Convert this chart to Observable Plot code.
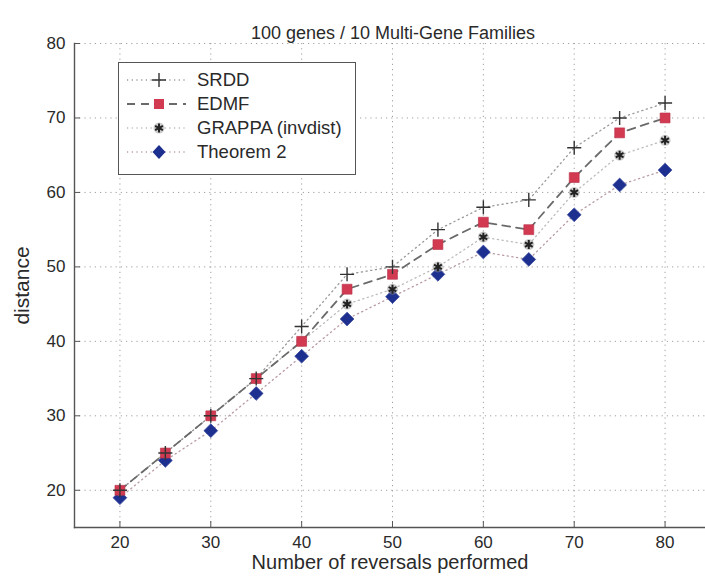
<!DOCTYPE html>
<html>
<head>
<meta charset="utf-8">
<script src="https://cdn.jsdelivr.net/npm/d3@7"></script>
<script src="https://cdn.jsdelivr.net/npm/@observablehq/plot@0.6"></script>
<style>
  html, body { margin: 0; padding: 0; background: #fff; }
  #wrap { position: relative; width: 705px; height: 578px; font-family: "Liberation Sans", Arial, sans-serif; }
  #legend { position: absolute; left: 118px; top: 62px; width: 238px; height: 113px; border: 1.4px solid #555; background: #fff; box-sizing: border-box; }
  #legend .row { position: absolute; left: 0; height: 24px; display: flex; align-items: center; }
  #legend .row span { font-size: 18.5px; color: #2a2a2a; margin-left: 10px; }
</style>
</head>
<body>
<div id="wrap"></div>
<script>
const reversals = [20, 25, 30, 35, 40, 45, 50, 55, 60, 65, 70, 75, 80];
const srdd    = [20, 25, 30, 35, 42, 49, 50, 55, 58, 59, 66, 70, 72];
const edmf    = [20, 25, 30, 35, 40, 47, 49, 53, 56, 55, 62, 68, 70];
const grappa  = [20, 25, 30, 35, 40, 45, 47, 50, 54, 53, 60, 65, 67];
const theorem = [19, 24, 28, 33, 38, 43, 46, 49, 52, 51, 57, 61, 63];
const seriesNames = ["SRDD", "EDMF", "GRAPPA (invdist)", "Theorem 2"];
const xTicks = [20, 30, 40, 50, 60, 70, 80];
const yTicks = [20, 30, 40, 50, 60, 70, 80];
const titleText = "100 genes / 10 Multi-Gene Families";
const xLabel = "Number of reversals performed";
const yLabel = "distance";

const mk = (vals) => reversals.map((x, i) => ({x, y: vals[i]}));
const dS = mk(srdd), dE = mk(edmf), dG = mk(grappa), dT = mk(theorem);

const ink = "#2a2a2a";
const chart = Plot.plot({
  width: 705, height: 578,
  marginLeft: 74, marginRight: 0, marginTop: 43, marginBottom: 51,
  style: {fontFamily: "Liberation Sans, Arial, sans-serif", background: "transparent", color: ink},
  x: {domain: [15, 84.45]},
  y: {domain: [15, 80]},
  marks: [
    Plot.gridX(xTicks, {stroke: "#777", strokeOpacity: 0.7, strokeDasharray: "1.2,4"}),
    Plot.gridY(yTicks, {stroke: "#777", strokeOpacity: 0.7, strokeDasharray: "1.2,4"}),
    Plot.frame({anchor: "left", stroke: "#555", strokeWidth: 1.4}),
    Plot.frame({anchor: "bottom", stroke: "#555", strokeWidth: 1.4}),
    Plot.axisX(xTicks, {tickSize: -6, tickFormat: () => "", label: null, stroke: "#555"}),
    Plot.axisY(yTicks, {tickSize: -6, tickFormat: () => "", label: null, stroke: "#555"}),
    Plot.axisX(xTicks, {tickSize: 0, tickPadding: 8, fontSize: 17, label: null, fill: ink}),
    Plot.axisY(yTicks, {tickSize: 0, tickPadding: 9, fontSize: 17, label: null, fill: ink}),
    Plot.line(dT, {x: "x", y: "y", stroke: "#b89aa2", strokeWidth: 1.3, strokeDasharray: "1.2,3.5"}),
    Plot.line(dG, {x: "x", y: "y", stroke: "#bbb", strokeWidth: 1.3, strokeDasharray: "1.2,3.5"}),
    Plot.line(dS, {x: "x", y: "y", stroke: "#999", strokeWidth: 1.3, strokeDasharray: "1.2,3.5"}),
    Plot.line(dE, {x: "x", y: "y", stroke: "#6a6a6a", strokeWidth: 1.8, strokeDasharray: "8,6"}),
    Plot.dot(dT, {x: "x", y: "y", symbol: "diamond2", r: 6.2, fill: "#1d2f8f", stroke: "#3a4aa0", strokeWidth: 0.8}),
    Plot.dot(dG, {x: "x", y: "y", r: 5.5, fill: "#9a9a9a", fillOpacity: 0.5, stroke: "none"}),
    Plot.dot(dG, {x: "x", y: "y", symbol: "asterisk", r: 4.2, stroke: "#222", strokeWidth: 2}),
    Plot.dot(dE, {x: "x", y: "y", symbol: "square", r: 5.6, fill: "#d23a52", stroke: "#b83048", strokeWidth: 0.6}),
    Plot.dot(dS, {x: "x", y: "y", symbol: "plus", r: 4.6, stroke: "#333", strokeWidth: 1.4}),
    Plot.text([titleText], {frameAnchor: "top", dy: -17, dx: 3, fontSize: 18, fill: ink}),
    Plot.text([xLabel], {frameAnchor: "bottom", dy: 41, fontSize: 20, fill: ink}),
    Plot.text([yLabel], {frameAnchor: "left", textAnchor: "middle", dx: -52, rotate: -90, fontSize: 21, fill: ink})
  ]
});
const wrap = document.getElementById("wrap");
wrap.appendChild(chart);

// legend
const leg = document.createElement("div");
leg.id = "legend";
const styles = [
  {line: {stroke: "#999", dash: "1.2,3.5", w: 1.3}, sym: "plus"},
  {line: {stroke: "#6a6a6a", dash: "8,6", w: 1.8}, sym: "square"},
  {line: {stroke: "#bbb", dash: "1.2,3.5", w: 1.3}, sym: "asterisk"},
  {line: {stroke: "#b89aa2", dash: "1.2,3.5", w: 1.3}, sym: "diamond"}
];
const rowsY = [5, 29, 53, 77];
seriesNames.forEach((name, i) => {
  const s = styles[i];
  const row = document.createElement("div");
  row.className = "row";
  row.style.top = rowsY[i] + "px";
  const svg = d3.create("svg").attr("width", 68).attr("height", 24);
  svg.append("line").attr("x1", 8).attr("x2", 67).attr("y1", 12).attr("y2", 12)
    .attr("stroke", s.line.stroke).attr("stroke-width", s.line.w).attr("stroke-dasharray", s.line.dash);
  const g = svg.append("g").attr("transform", "translate(40,12)");
  if (s.sym === "plus") {
    g.append("path").attr("d", d3.symbol(d3.symbolPlus, 66)()).attr("fill", "none").attr("stroke", "#333").attr("stroke-width", 1.4);
  } else if (s.sym === "square") {
    g.append("rect").attr("x", -5).attr("y", -5).attr("width", 10).attr("height", 10).attr("fill", "#d23a52");
  } else if (s.sym === "asterisk") {
    g.append("circle").attr("r", 5.5).attr("fill", "#9a9a9a").attr("fill-opacity", 0.5);
    g.append("path").attr("d", d3.symbol(d3.symbolAsterisk, 56)()).attr("fill", "none").attr("stroke", "#222").attr("stroke-width", 2);
  } else {
    g.append("path").attr("d", "M0,-7L6.5,0L0,7L-6.5,0Z").attr("fill", "#1d2f8f");
  }
  row.appendChild(svg.node());
  const t = document.createElement("span");
  t.textContent = name;
  row.appendChild(t);
  leg.appendChild(row);
});
wrap.appendChild(leg);
</script>
</body>
</html>
